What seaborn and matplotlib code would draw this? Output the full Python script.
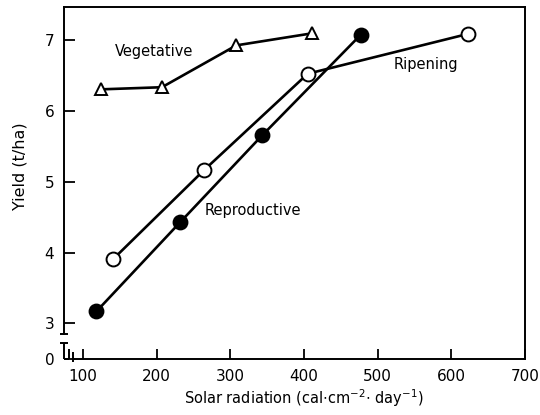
import pandas as pd
import matplotlib
matplotlib.use("Agg")
import matplotlib.pyplot as plt
import matplotlib.transforms as mtransforms
import seaborn as sns

# values
veg_x = [124, 207, 308, 411]
veg_y = [6.30, 6.33, 6.92, 7.09]

rip_x = [141, 264, 405, 622]
rip_y = [3.91, 5.16, 6.52, 7.08]

rep_x = [118, 232, 343, 477]
rep_y = [3.17, 4.43, 5.65, 7.07]

x_ticks = [100, 200, 300, 400, 500, 600, 700]
y_ticks = [2.5, 3, 4, 5, 6, 7]
y_tick_labels = ["0", "3", "4", "5", "6", "7"]

sns.set_style("ticks")
plt.rcParams["font.family"] = ["DejaVu Sans"]
plt.rcParams["text.color"] = "black"
plt.rcParams["axes.labelcolor"] = "black"

fig = plt.figure(figsize=(5.4, 4.15), dpi=100)
ax = fig.add_axes([0.1185, 0.135, 0.8537, 0.848])

line_kw = dict(color="black", linewidth=1.9, markeredgecolor="black",
               markeredgewidth=1.4, ax=ax)

veg = pd.DataFrame({"x": veg_x, "y": veg_y})
rip = pd.DataFrame({"x": rip_x, "y": rip_y})
rep = pd.DataFrame({"x": rep_x, "y": rep_y})

sns.lineplot(data=veg, x="x", y="y", marker="^", markersize=9,
             markerfacecolor="white", **line_kw)
sns.lineplot(data=rip, x="x", y="y", marker="o", markersize=10,
             markerfacecolor="white", **line_kw)
sns.lineplot(data=rep, x="x", y="y", marker="o", markersize=10,
             markerfacecolor="black", **line_kw)

ax.set_xlim(74, 700)
ax.set_ylim(2.5, 7.46)
ax.set_xticks(x_ticks)
ax.set_yticks(y_ticks)
ax.set_yticklabels(y_tick_labels)
ax.tick_params(axis="both", direction="in", labelsize=11, width=1.3,
               colors="black")
ax.tick_params(axis="x", length=7, pad=7)
ax.tick_params(axis="y", length=8, pad=7)

for side in ["top", "right", "bottom", "left"]:
    ax.spines[side].set_linewidth(1.4)
    ax.spines[side].set_color("black")

# broken axes near the origin
y_lo, y_hi = 2.73, 2.85
x_lo, x_hi = 81, 86.5
ax.spines["left"].set_bounds(y_hi, 7.46)
ax.spines["bottom"].set_bounds(x_hi, 700)

ty = mtransforms.blended_transform_factory(ax.transAxes, ax.transData)
tx = mtransforms.blended_transform_factory(ax.transData, ax.transAxes)
bk = dict(color="black", linewidth=1.4, clip_on=False, solid_capstyle="butt")
ax.plot([0, 0], [2.5, y_lo], transform=ty, **bk)
for yb in (y_lo, y_hi):
    ax.plot([-0.009, 0.009], [yb, yb], transform=ty, **bk)
ax.plot([74, x_lo], [0, 0], transform=tx, **bk)
ax.plot([x_lo, x_lo], [0, 0.028], transform=tx, **bk)
ax.plot([x_hi, x_hi], [-0.008, 0.02], transform=tx, **bk)

ax.set_xlabel(r"Solar radiation (cal$\cdot$cm$^{-2}$$\cdot$ day$^{-1}$)",
              fontsize=10.5)
ax.set_ylabel("Yield (t/ha)", fontsize=11.5)
ax.xaxis.set_label_coords(0.52, -0.08)
ax.yaxis.set_label_coords(-0.08, 0.548)

ax.text(197, 6.83, "Vegetative", fontsize=10.5, ha="center", va="center")
ax.text(566, 6.65, "Ripening", fontsize=10.5, ha="center", va="center")
ax.text(331, 4.59, "Reproductive", fontsize=10.5, ha="center", va="center")

fig.savefig("out.png", dpi=100)
